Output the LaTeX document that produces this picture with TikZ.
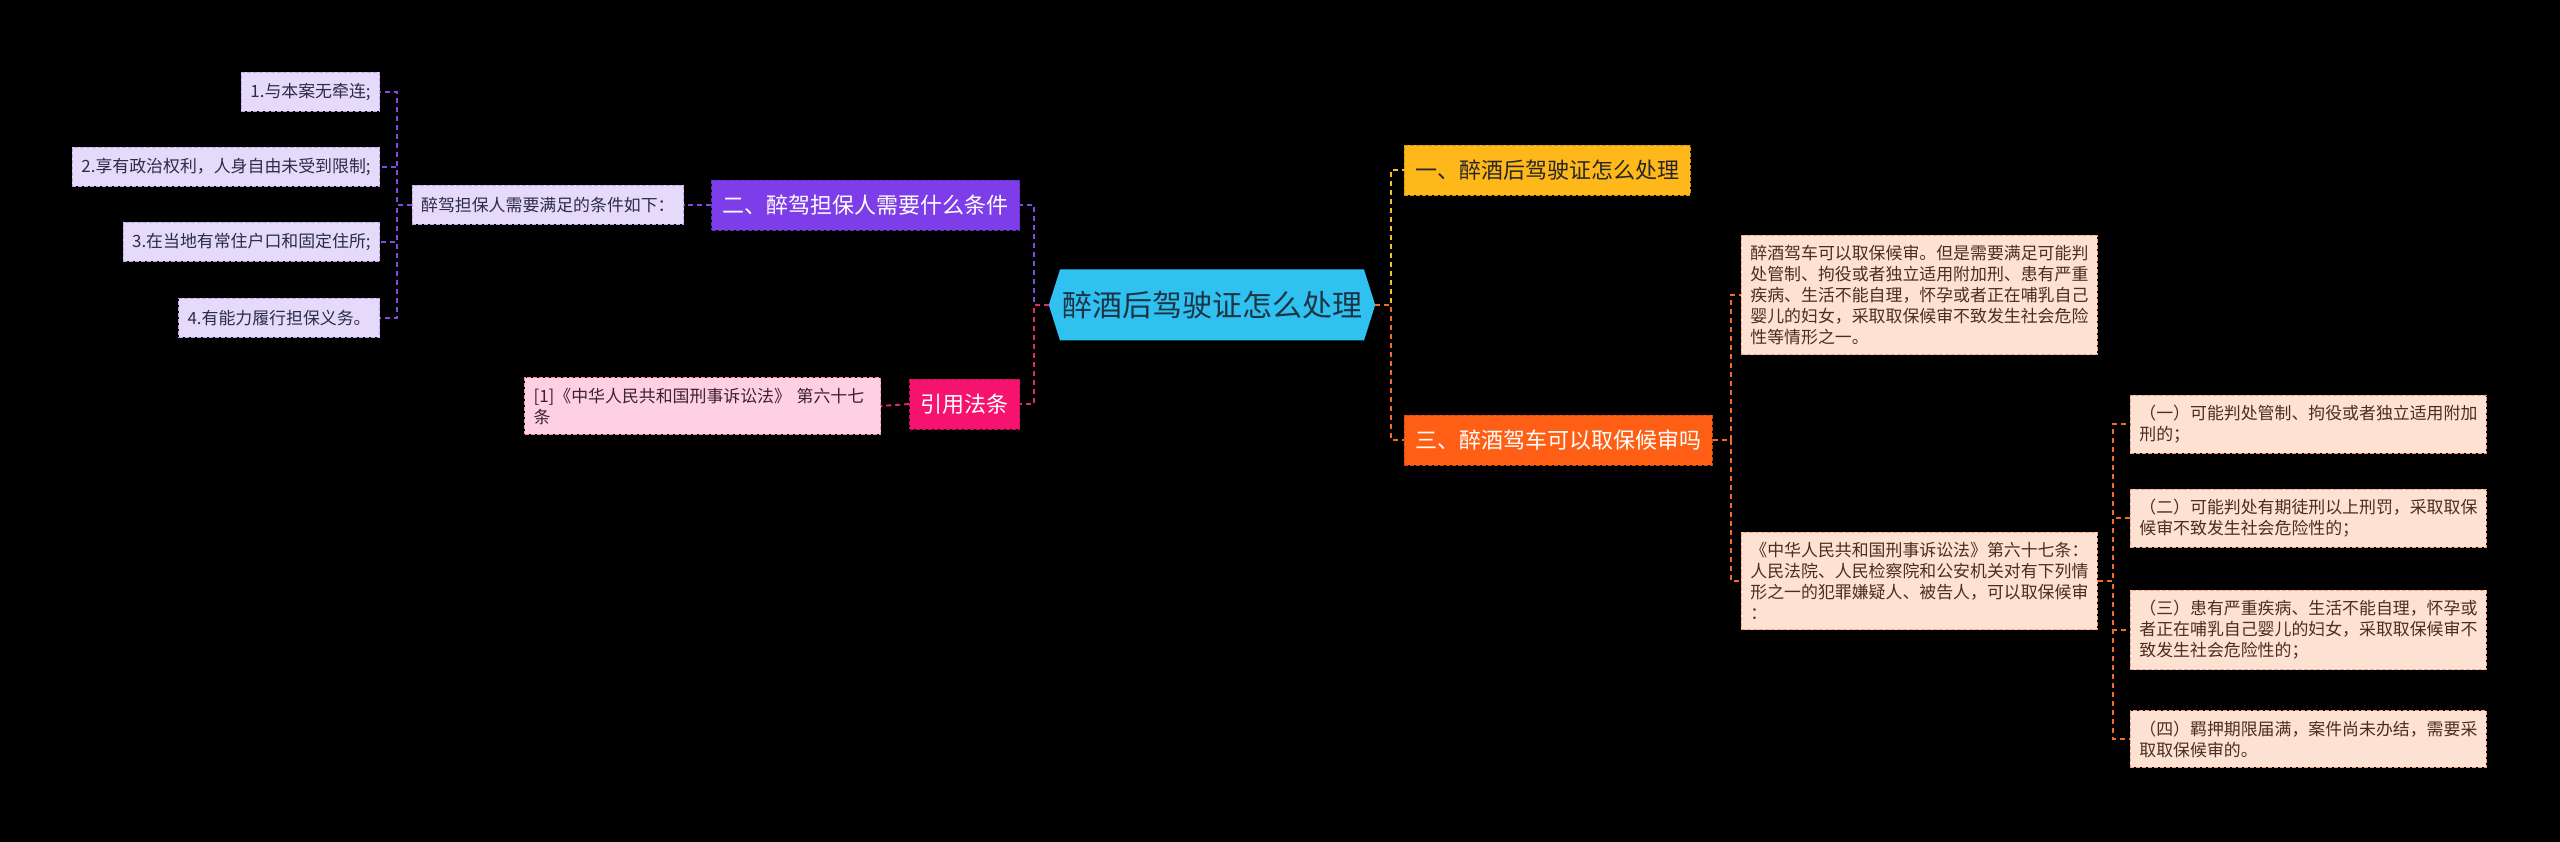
\documentclass[tikz,border=0pt]{standalone}
\usepackage{fontspec}
\setmainfont{Noto Sans CJK SC}
\usetikzlibrary{shapes.symbols}
\definecolor{hubblue}{HTML}{2FC2F1}
\definecolor{hubtext}{HTML}{1C3445}
\definecolor{yelmain}{HTML}{FFB81A}
\definecolor{yelline}{HTML}{F2C230}
\definecolor{ormain}{HTML}{FF5F14}
\definecolor{orline}{HTML}{F06A2A}
\definecolor{orleaf}{HTML}{FDE2D4}
\definecolor{ortext}{HTML}{4A2E20}
\definecolor{pumain}{HTML}{7D3DE8}
\definecolor{puline}{HTML}{7E4CE0}
\definecolor{puleaf}{HTML}{E5DAFA}
\definecolor{putext}{HTML}{2B2B4B}
\definecolor{pkmain}{HTML}{F5136F}
\definecolor{pkline}{HTML}{E22A72}
\definecolor{pkleaf}{HTML}{FFD0E2}
\definecolor{pktext}{HTML}{3A2230}
\begin{document}
\begin{tikzpicture}[x=1pt,y=-1pt,
  link/.style={dash pattern=on 5pt off 4pt,line width=1.9pt},
  main node/.style={draw,dash pattern=on 4pt off 2pt,line width=0.8pt,inner xsep=11pt,
    minimum height=50pt,font=\fontsize{22}{26}\selectfont},
  leaf node/.style={draw,dash pattern=on 4pt off 2pt,line width=0.8pt,inner xsep=9pt,
    minimum height=39pt,font=\fontsize{16.9}{21}\selectfont},
  text node/.style={leaf node,text width=338pt,align=left,inner ysep=10pt}]

\fill[black] (0,0) rectangle (2560,842);
\useasboundingbox (0,0) rectangle (2560,842);

% centre
\node[signal,signal to=west and east,signal pointer angle=145,fill=hubblue,text=hubtext,
  minimum width=312pt,minimum height=71pt,inner xsep=2pt,font=\fontsize{30}{34}\selectfont]
  (hub) at (1212,305) {醉酒后驾驶证怎么处理};

% right branches
\node[main node,fill=yelmain,draw=yelmain!80!black,text=black!85,anchor=west] (one) at (1404,170) {一、醉酒后驾驶证怎么处理};
\node[main node,fill=ormain,draw=ormain!80!black,text=white,anchor=west] (three) at (1404,440) {三、醉酒驾车可以取保候审吗};

\node[text node,fill=orleaf,draw=orline!60,text=ortext,anchor=west] (bail) at (1741,295)
  {醉酒驾车可以取保候审。但是需要满足可能判\\处管制、拘役或者独立适用附加刑、患有严重\\疾病、生活不能自理，怀孕或者正在哺乳自己\\婴儿的妇女，采取取保候审不致发生社会危险\\性等情形之一。};
\node[text node,fill=orleaf,draw=orline!60,text=ortext,anchor=west] (law) at (1741,581)
  {《中华人民共和国刑事诉讼法》第六十七条：\\人民法院、人民检察院和公安机关对有下列情\\形之一的犯罪嫌疑人、被告人，可以取保候审\\：};

\node[text node,fill=orleaf,draw=orline!60,text=ortext,anchor=west] (case1) at (2130,424)
  {（一）可能判处管制、拘役或者独立适用附加\\刑的；};
\node[text node,fill=orleaf,draw=orline!60,text=ortext,anchor=west] (case2) at (2130,518)
  {（二）可能判处有期徒刑以上刑罚，采取取保\\候审不致发生社会危险性的；};
\node[text node,fill=orleaf,draw=orline!60,text=ortext,anchor=west] (case3) at (2130,630)
  {（三）患有严重疾病、生活不能自理，怀孕或\\者正在哺乳自己婴儿的妇女，采取取保候审不\\致发生社会危险性的；};
\node[text node,fill=orleaf,draw=orline!60,text=ortext,anchor=west] (case4) at (2130,739)
  {（四）羁押期限届满，案件尚未办结，需要采\\取取保候审的。};

% left branches
\node[main node,fill=pumain,draw=pumain!80!black,text=white,anchor=east] (two) at (1020,205) {二、醉驾担保人需要什么条件};
\node[main node,fill=pkmain,draw=pkmain!80!black,text=white,anchor=east] (cite) at (1020,404) {引用法条};

\node[leaf node,fill=puleaf,draw=puline!50,text=putext,anchor=east] (cond) at (684,205) {醉驾担保人需要满足的条件如下：};
\node[leaf node,fill=puleaf,draw=puline!50,text=putext,anchor=east] (req1) at (380,92) {1.与本案无牵连;};
\node[leaf node,fill=puleaf,draw=puline!50,text=putext,anchor=east] (req2) at (380,167) {2.享有政治权利，人身自由未受到限制;};
\node[leaf node,fill=puleaf,draw=puline!50,text=putext,anchor=east] (req3) at (380,242) {3.在当地有常住户口和固定住所;};
\node[leaf node,fill=puleaf,draw=puline!50,text=putext,anchor=east] (req4) at (380,318) {4.有能力履行担保义务。};

\node[text node,fill=pkleaf,draw=pkline!50,text=pktext,anchor=east] (ref) at (881,406)
  {[1]《中华人民共和国刑事诉讼法》 第六十七\\条};

% connectors
\draw[link,yelline] (hub.east) -- ++(16,0) |- (one.west);
\draw[link,orline] (hub.east) -- ++(16,0) |- (three.west);
\draw[link,puline] (hub.west) -- ++(-15,0) |- (two.east);
\draw[link,pkline] (hub.west) -- ++(-15,0) |- (cite.east);

\foreach \n in {bail,law}
  \draw[link,orline] (three.east) -- ++(18,0) |- (\n.west);
\foreach \n in {case1,case2,case3,case4}
  \draw[link,orline] (law.east) -- ++(15,0) |- (\n.west);

\draw[link,puline] (two.west) -- (cond.east);
\foreach \n in {req1,req2,req3,req4}
  \draw[link,puline] (cond.west) -- ++(-15,0) |- (\n.east);

\draw[link,pkline] (cite.west) -- (ref.east);

\end{tikzpicture}
\end{document}
